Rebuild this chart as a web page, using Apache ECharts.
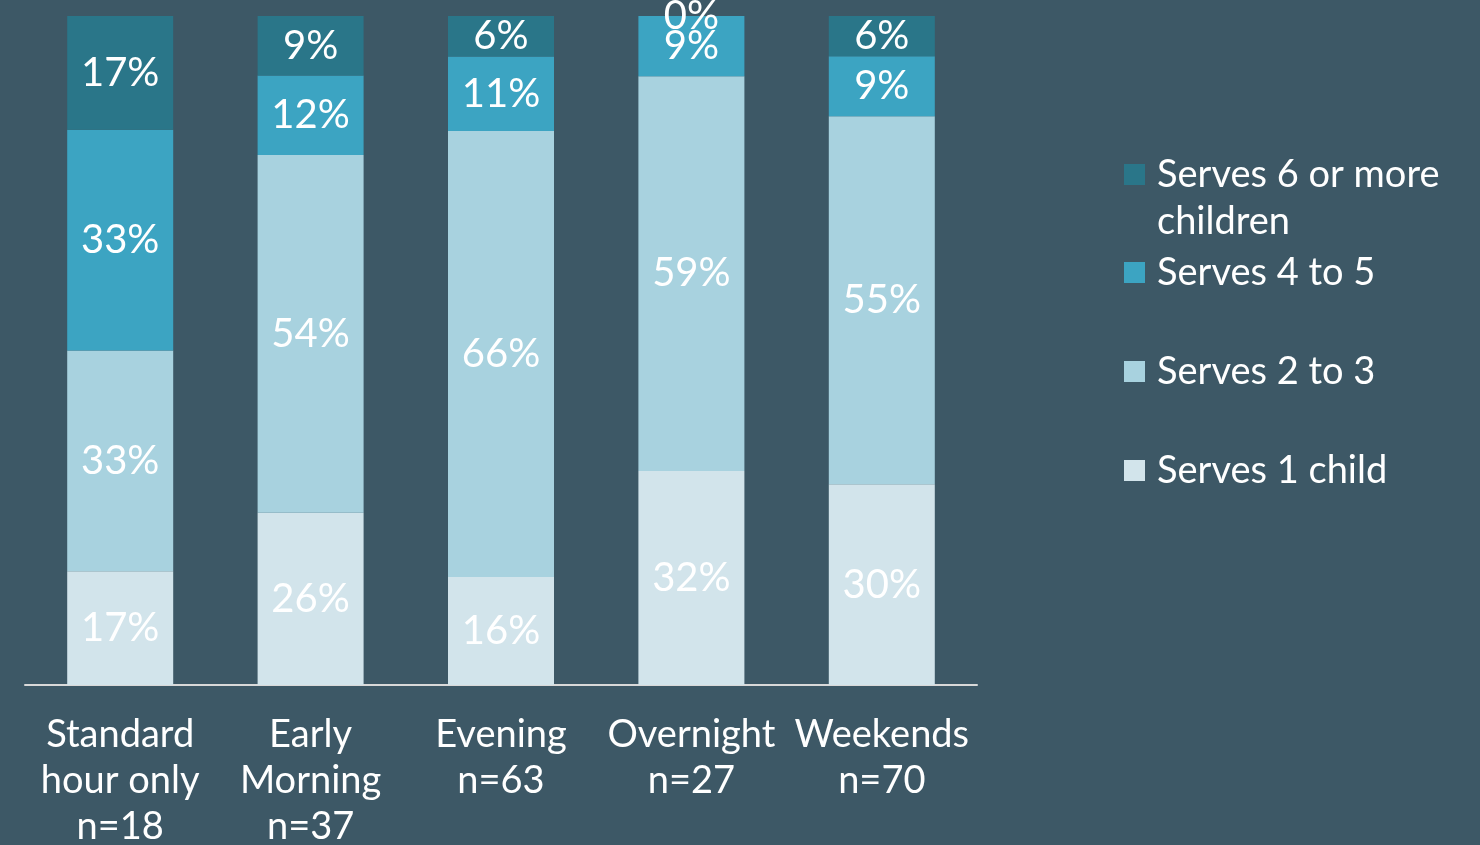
<!DOCTYPE html>
<html>
<head>
<meta charset="utf-8">
<script src="https://cdn.jsdelivr.net/npm/echarts@6/dist/echarts.min.js"></script>
<style>
  html, body { margin: 0; padding: 0; background: #3d5866; }
  #chart { width: 1480px; height: 845px; }
</style>
</head>
<body>
<div id="chart"></div>
<script>
// 类别 (x轴)
var categories = ['Standard\nhour only\nn=18', 'Early\nMorning\nn=37', 'Evening\nn=63', 'Overnight\nn=27', 'Weekends\nn=70'];

// 各系列的百分比 (图上读出的数值)
var serves1 = [17, 26, 16, 32, 30];
var serves2to3 = [33, 54, 66, 59, 55];
var serves4to5 = [33, 12, 11, 9, 9];
var serves6plus = [17, 9, 6, 0, 6];

var names = ['Serves 1 child', 'Serves 2 to 3', 'Serves 4 to 5', 'Serves 6 or more children'];
var colors = ['#d2e4eb', '#a8d2df', '#3ca4c2', '#2a7689'];
var FONT = 'Lato';

// 每根柱子堆叠到 100%
var totals = categories.map(function (c, i) {
  return serves1[i] + serves2to3[i] + serves4to5[i] + serves6plus[i];
});

function makeSeries(name, vals, color) {
  return {
    name: name,
    type: 'bar',
    stack: 'all',
    barWidth: 106,
    itemStyle: { color: color },
    label: {
      show: true,
      position: 'inside',
      color: '#ffffff',
      fontFamily: FONT,
      fontSize: 40,
      formatter: function (p) { return vals[p.dataIndex] + '%'; }
    },
    data: vals.map(function (v, i) { return v / totals[i] * 100; })
  };
}

var chart = echarts.init(document.getElementById('chart'));

var legendBase = {
  orient: 'vertical',
  selectedMode: false,
  padding: 0,
  itemWidth: 21,
  itemHeight: 21,
  itemGap: 52,
  icon: 'rect',
  textStyle: { color: '#ffffff', fontFamily: FONT, fontSize: 38, lineHeight: 47, padding: [0, 0, 0, 7] }
};

var option = {
  backgroundColor: '#3d5866',
  animation: false,
  grid: { left: 25, right: 503, top: 16, bottom: 160, outerBoundsMode: 'none' },
  legend: [
    Object.assign({}, legendBase, {
      left: 1124, top: 104,
      data: ['Serves 6 or more children'],
      formatter: function () { return '\nServes 6 or more\nchildren'; }
    }),
    Object.assign({}, legendBase, {
      left: 1124, top: 249,
      data: ['Serves 4 to 5', 'Serves 2 to 3', 'Serves 1 child']
    })
  ],
  xAxis: {
    type: 'category',
    data: categories,
    axisLine: { lineStyle: { color: '#d9d9d9', width: 2 } },
    axisTick: { show: false },
    axisLabel: {
      color: '#ffffff',
      fontFamily: FONT,
      fontSize: 38,
      lineHeight: 46,
      margin: 27,
      interval: 0
    }
  },
  yAxis: {
    type: 'value',
    min: 0,
    max: 100,
    show: false,
    splitLine: { show: false }
  },
  series: [
    makeSeries(names[0], serves1, colors[0]),
    makeSeries(names[1], serves2to3, colors[1]),
    makeSeries(names[2], serves4to5, colors[2]),
    makeSeries(names[3], serves6plus, colors[3])
  ]
};

chart.setOption(option);
</script>
</body>
</html>
